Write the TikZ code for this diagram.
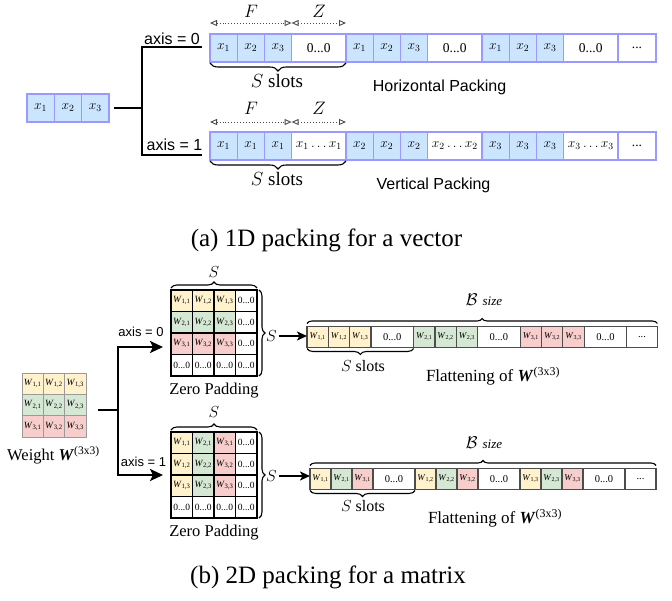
\RequirePackage{fix-cm}
\documentclass[tikz,border=0pt]{standalone}
\usepackage[no-math]{fontspec}
\setmainfont{Liberation Serif}
\newfontfamily\arialf{Liberation Sans}
\usetikzlibrary{arrows.meta,decorations.pathreplacing,calc}
\definecolor{bfill}{HTML}{CCE5FF}
\definecolor{bline}{HTML}{9999FF}
\definecolor{yfill}{HTML}{FFF2CC}
\definecolor{gfill}{HTML}{D5E8D4}
\definecolor{rfill}{HTML}{F8CECC}
\definecolor{wline}{HTML}{9A9A9A}
\definecolor{fline}{HTML}{4D4D4D}
\colorlet{rc1}{yfill}
\colorlet{rc2}{gfill}
\colorlet{rc3}{rfill}
\newcommand{\fs}[1]{\fontsize{#1}{#1}\selectfont}
\newcommand{\wij}[1]{\textit{W}\textsubscript{#1}}
\begin{document}
\begin{tikzpicture}[x=1pt,y=-1pt,
  every node/.style={inner sep=0pt, outer sep=0pt},
  vcell/.style={draw=bline, line width=1.2pt, minimum height=28pt, anchor=west, font=\fs{13.5}},
  wcell/.style={draw=wline, line width=0.6pt, minimum width=21.3pt, minimum height=21.3pt, font=\fs{9.5}},
  pcell/.style={draw=black, line width=1.2pt, minimum width=21.5pt, minimum height=21.5pt, font=\fs{9.5}},
  fcell/.style={draw=fline, line width=1.2pt, minimum height=21pt, anchor=west, font=\fs{10.5}},
  brc/.style={decorate, decoration={brace, amplitude=#1}, line width=1.1pt},
  mbrc/.style={decorate, decoration={brace, mirror, amplitude=#1}, line width=1.1pt},
  dimarr/.style={dotted, line width=0.9pt, draw=black!70, {Triangle[open,length=7pt,width=6pt]}-{Triangle[open,length=7pt,width=6pt]}},
  conn/.style={line width=1.3pt},
  bigarr/.style={line width=2.5pt, -{Stealth[length=13pt,width=12pt,inset=3pt]}},
  sarr/.style={line width=1.8pt, -{Stealth[length=10pt,width=9pt,inset=2.5pt]}},
  sanslab/.style={font=\arialf\fs{#1}},
]
\useasboundingbox (0,0) rectangle (672,600);

% ---------- (a) 1D packing ----------
\foreach \x/\t [count=\i] in {27/{$x_1$},54.3/{$x_2$},81.6/{$x_3$}}
  \node[vcell, fill=bfill, minimum width=27.3pt] (in\i) at (\x,108) {\t};

\foreach \x/\w/\t/\c [count=\i] in {
  210/27.2/{$x_1$}/bfill, 237.2/27.2/{$x_2$}/bfill, 264.4/27.2/{$x_3$}/bfill, 291.6/54.4/{0...0}/white,
  346/27.2/{$x_1$}/bfill, 373.2/27.2/{$x_2$}/bfill, 400.4/27.2/{$x_3$}/bfill, 427.6/54.4/{0...0}/white,
  482/27.2/{$x_1$}/bfill, 509.2/27.2/{$x_2$}/bfill, 536.4/27.2/{$x_3$}/bfill, 563.6/54.4/{0...0}/white,
  618/38/{...}/white}
  \node[vcell, fill=\c, minimum width=\w pt] (h\i) at (\x,48) {\t};

\foreach \x/\w/\t/\c [count=\i] in {
  210/27.2/{$x_1$}/bfill, 237.2/27.2/{$x_1$}/bfill, 264.4/27.2/{$x_1$}/bfill, 291.6/54.4/{$x_1\ldots x_1$}/white,
  346/27.2/{$x_2$}/bfill, 373.2/27.2/{$x_2$}/bfill, 400.4/27.2/{$x_2$}/bfill, 427.6/54.4/{$x_2\ldots x_2$}/white,
  482/27.2/{$x_3$}/bfill, 509.2/27.2/{$x_3$}/bfill, 536.4/27.2/{$x_3$}/bfill, 563.6/54.4/{$x_3\ldots x_3$}/white,
  618/38/{...}/white}
  \node[vcell, fill=\c, minimum width=\w pt] (v\i) at (\x,146) {\t};

\coordinate (js) at (114,108);
\coordinate (jm) at (142,108);
\coordinate (jt) at (142,47);
\coordinate (jb) at (142,155);
\coordinate (et) at (202,47);
\coordinate (eb) at (202,155);
\draw[conn] (js) -- (jm);
\draw[conn] (et) -- (jt) -- (jb) -- (eb);
\node[sanslab=16] (ax0) at (172,39) {axis = 0};
\node[sanslab=16] (ax1) at (174.5,145) {axis = 1};

\draw[dimarr] ([yshift=11pt]h1.north west) -- ([yshift=11pt]h3.north east);
\draw[dimarr] ([yshift=11pt]h4.north west) -- ([yshift=11pt]h4.north east);
\node[font=\fs{18}] (Ft) at (251,11) {$F$};
\node[font=\fs{18}] (Zt) at (319,11) {$Z$};
\draw[dimarr] ([yshift=10pt]v1.north west) -- ([yshift=10pt]v3.north east);
\draw[dimarr] ([yshift=10pt]v4.north west) -- ([yshift=10pt]v4.north east);
\node[font=\fs{18}] (Fb) at (251,108) {$F$};
\node[font=\fs{18}] (Zb) at (319,108) {$Z$};

\draw[mbrc=8pt] ([yshift=-1pt]h1.south west) -- ([yshift=-1pt]h4.south east);
\node[font=\fs{19}] (st) at (277,81) {$S$ slots};
\draw[mbrc=8pt] ([yshift=-1pt]v1.south west) -- ([yshift=-1pt]v4.south east);
\node[font=\fs{19}] (sb) at (277,179) {$S$ slots};

\node[sanslab=16] (hp) at (439.5,87) {Horizontal Packing};
\node[sanslab=16] (vp) at (433.5,185) {Vertical Packing};

\node[font=\fs{25}] (capa) at (326.5,240) {(a) 1D packing for a vector};

% ---------- (b) 2D packing ----------
\foreach \r in {1,2,3}{\foreach \c in {1,2,3}{
  \node[wcell, fill=rc\r] (m\r\c) at ({22+21.3*(\c-0.5)},{373+21.3*(\r-0.5)}) {\wij{\r,\c}};
}}
\node[font=\fs{16.5}] (wl) at (53.5,455) {Weight \textbf{\textit{W}}\textsuperscript{(3x3)}};

\foreach \r in {1,...,4}{\foreach \c in {1,...,4}{
  \def\ft{white}\def\tx{0...0}
  \ifnum\r<4 \ifnum\c<4 \def\ft{rc\r}\def\tx{\wij{\r,\c}}\fi\fi
  \node[pcell, fill=\ft] (a\r\c) at ({171+21.5*(\c-0.5)},{290+21.5*(\r-0.5)}) {\tx};
}}
\foreach \r in {1,...,4}{\foreach \c in {1,...,4}{
  \def\ft{white}\def\tx{0...0}
  \ifnum\r<4 \ifnum\c<4 \def\ft{rc\c}\def\tx{\wij{\c,\r}}\fi\fi
  \node[pcell, fill=\ft] (b\r\c) at ({171+21.5*(\c-0.5)},{432+21.5*(\r-0.5)}) {\tx};
}}

\coordinate (ms) at (98,410);
\coordinate (bj) at (118,410);
\coordinate (at0) at (163,347);
\coordinate (at1) at (163,475);
\draw[line width=2.5pt] (ms) -- (bj);
\draw[bigarr] (bj) |- (at0);
\draw[bigarr] (bj) |- (at1);
\node[sanslab=13] (bx0) at (141,332) {axis = 0};
\node[sanslab=13] (bx1) at (143.5,462) {axis = 1};

% braces on padded matrices
\draw[brc=6pt] ([yshift=2pt]a11.north west) -- ([yshift=2pt]a14.north east);
\node[font=\fs{16}] (sa) at (214,272) {$S$};
\draw[brc=6pt] ([xshift=2pt]a14.north east) -- ([xshift=2pt]a44.south east);
\node[font=\fs{16}] (sar) at (271.5,336) {$S$};
\node[font=\fs{16.5}] (zpa) at (214,391) {Zero Padding};

\draw[brc=6pt] ([yshift=2pt]b11.north west) -- ([yshift=2pt]b14.north east);
\node[font=\fs{16}] (sbt) at (214,412) {$S$};
\draw[brc=6pt] ([xshift=2pt]b14.north east) -- ([xshift=2pt]b44.south east);
\node[font=\fs{16}] (sbr) at (271.5,476) {$S$};
\node[font=\fs{16.5}] (zpb) at (214,533) {Zero Padding};

% flattened rows
\foreach \x/\w/\t/\c [count=\i] in {
  307/21.3/{\wij{1,1}}/yfill, 328.3/21.3/{\wij{1,2}}/yfill, 349.6/21.3/{\wij{1,3}}/yfill, 370.9/42.7/{0...0}/white,
  413.6/21.3/{\wij{2,1}}/gfill, 434.9/21.3/{\wij{2,2}}/gfill, 456.2/21.3/{\wij{2,3}}/gfill, 477.5/42.7/{0...0}/white,
  520.2/21.3/{\wij{3,1}}/rfill, 541.5/21.3/{\wij{3,2}}/rfill, 562.8/21.3/{\wij{3,3}}/rfill, 584.1/42.7/{0...0}/white,
  626.8/30.5/{...}/white}
  \node[fcell, fill=\c, minimum width=\w pt] (f\i) at (\x,337) {\ifnum\i=13 \else\ifdim\w pt<30pt \fs{9}\fi\fi\t};

\foreach \x/\w/\t/\c [count=\i] in {
  310/21/{\wij{1,1}}/yfill, 331/21/{\wij{2,1}}/gfill, 352/21/{\wij{3,1}}/rfill, 373/42/{0...0}/white,
  415/21/{\wij{1,2}}/yfill, 436/21/{\wij{2,2}}/gfill, 457/21/{\wij{3,2}}/rfill, 478/42/{0...0}/white,
  520/21/{\wij{1,3}}/yfill, 541/21/{\wij{2,3}}/gfill, 562/21/{\wij{3,3}}/rfill, 583/42/{0...0}/white,
  625/31/{...}/white}
  \node[fcell, fill=\c, minimum width=\w pt] (g\i) at (\x,479) {\ifnum\i=13 \else\ifdim\w pt<30pt \fs{9}\fi\fi\t};

\draw[sarr] (sar.east) ++(2pt,0) -- (sar.east -| f1.west);
\draw[sarr] (sbr.east) ++(2pt,0) -- (sbr.east -| g1.west);

\draw[brc=5pt] ([yshift=3pt]f1.north west) -- ([yshift=3pt]f13.north east);
\node (bsa) at (484,300) {\fs{17}$\mathcal{B}$\hspace{5pt}\fs{13}\textit{size}};
\draw[mbrc=6pt] ([yshift=-1pt]f1.south west) -- ([yshift=-1pt]f4.south east);
\node[font=\fs{16}] (ssa) at (363,366) {$S$ slots};
\node[font=\fs{17}] (fla) at (493,376) {Flattening of \textbf{\textit{W}}\textsuperscript{(3x3)}};

\draw[brc=5pt] ([yshift=3pt]g1.north west) -- ([yshift=3pt]g13.north east);
\node (bsb) at (484,443) {\fs{17}$\mathcal{B}$\hspace{5pt}\fs{13}\textit{size}};
\draw[mbrc=6pt] ([yshift=-1pt]g1.south west) -- ([yshift=-1pt]g4.south east);
\node[font=\fs{16}] (ssb) at (363,506) {$S$ slots};
\node[font=\fs{17}] (flb) at (495,518) {Flattening of \textbf{\textit{W}}\textsuperscript{(3x3)}};

\node[font=\fs{25}] (capb) at (328,577) {(b) 2D packing for a matrix};
\end{tikzpicture}
\end{document}
